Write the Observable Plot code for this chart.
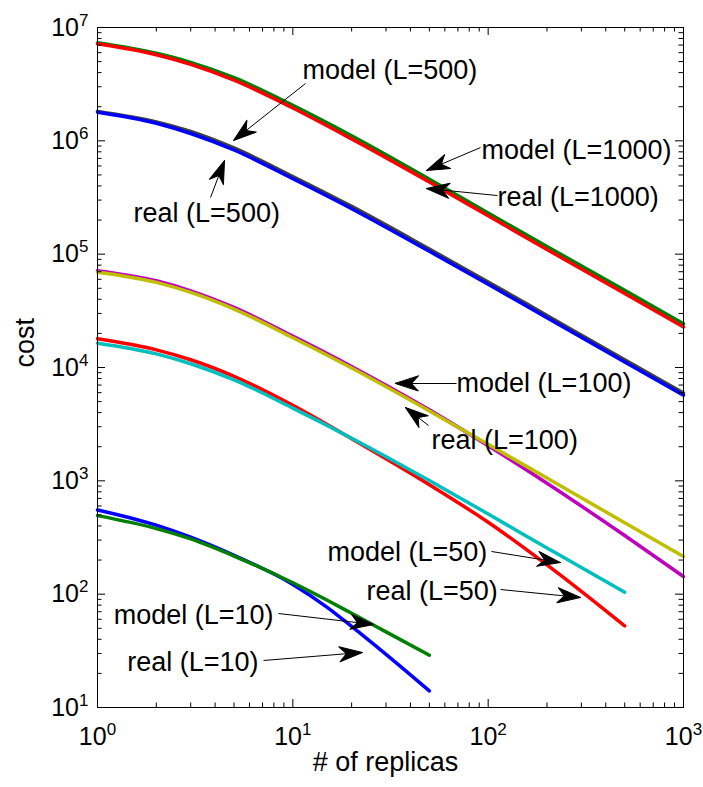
<!DOCTYPE html>
<html><head><meta charset="utf-8">
<script src="https://cdn.jsdelivr.net/npm/d3@7"></script>
<script src="https://cdn.jsdelivr.net/npm/@observablehq/plot@0.6"></script>
<style>body{margin:0;background:#fff}</style>
</head><body><div id="chart"></div>
<script>
// ---------- data ----------
const xFull = [1, 2, 3, 5, 10, 20, 50, 100, 200, 500, 1000];
const realL1000  = [7.18e6, 5.75e6, 4.73e6, 3.43e6, 1.95e6, 1.04e6, 4.33e5, 2.18e5, 1.10e5, 4.50e4, 2.28e4];
const modelL1000 = [7.35e6, 5.93e6, 4.93e6, 3.61e6, 2.06e6, 1.11e6, 4.59e5, 2.31e5, 1.17e5, 4.79e4, 2.43e4];
const realL500   = [1.79e6, 1.43e6, 1.16e6, 8.30e5, 4.63e5, 2.52e5, 1.06e5, 5.43e4, 2.75e4, 1.12e4, 5690];
const modelL500  = [1.82e6, 1.47e6, 1.21e6, 8.65e5, 4.85e5, 2.64e5, 1.11e5, 5.69e4, 2.88e4, 1.17e4, 5960];
const realL100   = [6.93e4, 5.64e4, 4.60e4, 3.28e4, 1.83e4, 9886, 4140, 2099, 1057, 427, 215];
const modelL100  = [7.16e4, 5.82e4, 4.75e4, 3.39e4, 1.89e4, 1.02e4, 4227, 2042, 953, 329, 143];
const xL50 = [1, 2, 3, 5, 10, 20, 50, 100, 200, 300, 500];
const realL50  = [1.79e4, 1.43e4, 1.17e4, 8356, 4634, 2350, 923, 431, 181, 106, 52.5];
const modelL50 = [1.64e4, 1.32e4, 1.08e4, 7780, 4375, 2377, 1005, 509, 256, 172, 104];
const xL10 = [1, 2, 3, 5, 10, 15, 20, 30, 50];
const realL10  = [553, 406, 318, 220, 122, 76.6, 51.9, 29.4, 14.0];
const modelL10 = [493, 379, 307, 217, 126, 88.3, 67.8, 46.5, 28.9];

const seriesNames = ["model (L=1000)", "real (L=1000)", "model (L=500)", "real (L=500)",
  "model (L=100)", "real (L=100)", "real (L=50)", "model (L=50)", "real (L=10)", "model (L=10)"];
const seriesX = [xFull, xFull, xFull, xFull, xFull, xFull, xL50, xL50, xL10, xL10];
const seriesY = [modelL1000, realL1000, modelL500, realL500, modelL100, realL100, realL50, modelL50, realL10, modelL10];
const seriesColors = ["#008000", "#ff0000", "#404040", "#0000ff", "#bf00bf", "#bfbf00", "#ff0000", "#00bfbf", "#0000ff", "#008000"];

// annotation labels (left edge, vertical centre) and arrows (tail -> tip), in data units
const labelText = ["model (L=500)", "model (L=1000)", "real (L=1000)", "real (L=500)", "model (L=100)",
  "real (L=100)", "model (L=50)", "real (L=50)", "model (L=10)", "real (L=10)"];
const labelX = [11.2, 92.5, 111.6, 1.53, 68.9, 51.3, 15.05, 23.8, 1.21, 1.42];
const labelY = [4.17e6, 8.22e5, 3.16e5, 2.28e5, 7223, 2269, 233, 105.5, 64.8, 24.9];
const arrowTailX = [11.61, 91.4, 111.6, 3.79, 68.9, 49.5, 104, 115.7, 8.45, 7.08];
const arrowTailY = [3.204e6, 8.73e5, 3.29e5, 3.16e5, 7223, 3077, 238, 109.9, 67.5, 26.0];
const arrowTipX  = [4.97, 48.3, 48.3, 4.47, 33.5, 37.7, 234.6, 297, 25.9, 22.7];
const arrowTipY  = [1.007e6, 5.47e5, 3.80e5, 6.71e5, 7223, 4436, 190, 93.4, 54.0, 30.6];

// axes
const xDomain = [1, 1000];
const yDomain = [10, 1e7];
const xMajor = [1, 10, 100, 1000];
const yMajor = [10, 100, 1e3, 1e4, 1e5, 1e6, 1e7];
const minorSteps = [2, 3, 4, 5, 6, 7, 8, 9];
const xMinor = xMajor.slice(0, -1).flatMap(d => minorSteps.map(m => d * m));
const yMinor = yMajor.slice(0, -1).flatMap(d => minorSteps.map(m => d * m));
const xTitle = "# of replicas";
const yTitle = "cost";

// ---------- layout ----------
const W = 703, H = 787, mL = 97, mR = 20, mT = 27, mB = 80;
const innerW = W - mL - mR, innerH = H - mT - mB;
const majorLen = 8, minorLen = 4.5;

const lineData = seriesNames.flatMap((name, s) =>
  seriesX[s].map((x, i) => ({series: name, x, y: seriesY[s][i]})));

// scales to compute the screen-space arrow head directions
let sx, sy;
try {
  sx = Plot.scale({x: {type: "log", domain: xDomain, range: [mL, W - mR]}});
  sy = Plot.scale({y: {type: "log", domain: yDomain, range: [H - mB, mT]}});
} catch (e) {
  const a = d3.scaleLog(xDomain, [mL, W - mR]), b = d3.scaleLog(yDomain, [H - mB, mT]);
  sx = {apply: a}; sy = {apply: b};
}
const idx = d3.range(arrowTipX.length);
const headAngle = idx.map(i => {
  const dx = sx.apply(arrowTipX[i]) - sx.apply(arrowTailX[i]);
  const dy = sy.apply(arrowTipY[i]) - sy.apply(arrowTailY[i]);
  return Math.atan2(dx, -dy) * 180 / Math.PI;
});
const headShape = {
  draw(ctx, l) {
    ctx.moveTo(0, -l);
    ctx.lineTo(-7.5, 0);
    ctx.lineTo(0, -l * 0.3);
    ctx.lineTo(7.5, 0);
    ctx.closePath();
  }
};

const font = "'Liberation Sans', Arial, Helvetica, sans-serif";
const fmt = d => `10^${Math.round(Math.log10(d))}`;

const chart = Plot.plot({
  width: W, height: H,
  marginLeft: mL, marginRight: mR, marginTop: mT, marginBottom: mB,
  style: {fontFamily: font, background: "white", color: "black"},
  x: {type: "log", domain: xDomain},
  y: {type: "log", domain: yDomain},
  color: {domain: seriesNames, range: seriesColors},
  marks: [
    Plot.line(lineData, {x: "x", y: "y", z: "series", stroke: "series", strokeWidth: 3.5, curve: "monotone-x"}),
    Plot.frame({stroke: "black", strokeWidth: 1}),
    // inward ticks on all four sides
    Plot.tickX(xMajor, {x: d => d, insetTop: innerH - majorLen, stroke: "black"}),
    Plot.tickX(xMajor, {x: d => d, insetBottom: innerH - majorLen, stroke: "black"}),
    Plot.tickX(xMinor, {x: d => d, insetTop: innerH - minorLen, stroke: "black"}),
    Plot.tickX(xMinor, {x: d => d, insetBottom: innerH - minorLen, stroke: "black"}),
    Plot.tickY(yMajor, {y: d => d, insetRight: innerW - majorLen, stroke: "black"}),
    Plot.tickY(yMajor, {y: d => d, insetLeft: innerW - majorLen, stroke: "black"}),
    Plot.tickY(yMinor, {y: d => d, insetRight: innerW - minorLen, stroke: "black"}),
    Plot.tickY(yMinor, {y: d => d, insetLeft: innerW - minorLen, stroke: "black"}),
    Plot.axisX({ticks: xMajor, tickFormat: fmt, tickSize: 0, tickPadding: 20, fontSize: 25, label: null}),
    Plot.axisY({ticks: yMajor, tickFormat: fmt, tickSize: 0, tickPadding: 9, fontSize: 25, label: null}),
    Plot.text([xTitle], {text: d => d, frameAnchor: "bottom", dy: 63, dx: -5, fontSize: 27}),
    Plot.text([yTitle], {text: d => d, frameAnchor: "left", dx: -72, rotate: -90, fontSize: 27}),
    // annotations
    Plot.link(idx, {x1: i => arrowTailX[i], y1: i => arrowTailY[i], x2: i => arrowTipX[i], y2: i => arrowTipY[i],
      stroke: "black", strokeWidth: 1}),
    Plot.vector(idx, {x: i => arrowTipX[i], y: i => arrowTipY[i], rotate: i => headAngle[i],
      length: 23, anchor: "end", shape: headShape, fill: "black", stroke: "black", strokeWidth: 1}),
    Plot.text(idx, {x: i => labelX[i], y: i => labelY[i], text: i => labelText[i],
      textAnchor: "start", fontSize: 27, fill: "black"})
  ]
});

// render tick labels as 10 with a raised exponent
chart.querySelectorAll('g[aria-label="x-axis tick label"] text, g[aria-label="y-axis tick label"] text').forEach(t => {
  const m = /^10\^(-?\d+)$/.exec(t.textContent.trim());
  if (!m) return;
  t.textContent = "10";
  const ts = document.createElementNS("http://www.w3.org/2000/svg", "tspan");
  ts.setAttribute("dy", "-10");
  ts.setAttribute("font-size", "17");
  ts.textContent = m[1];
  t.appendChild(ts);
});

document.getElementById("chart").appendChild(chart);
</script></body></html>
